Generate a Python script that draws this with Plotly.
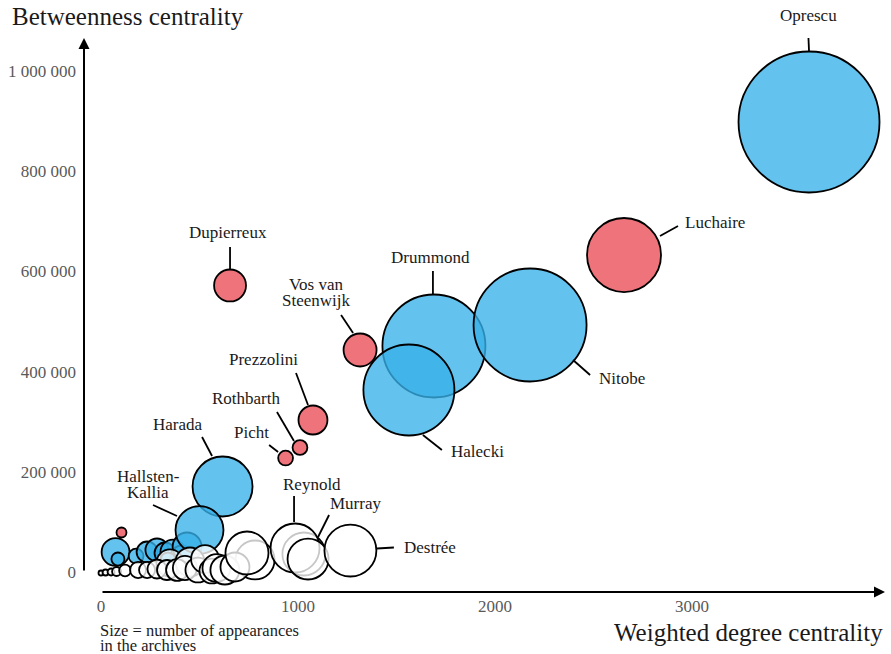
import plotly.graph_objects as go

# ---------------- data ----------------
names = [
    "B1", "B2", "B3", "B4", "B5", "B6", "B7", "B8", "B9", "B10", "R1",
    "Drummond", "Halecki", "Nitobe", "Opprescu", "Luchaire",
    "Dupierreux", "Vos van Steenwijk", "Prezzolini", "Rothbarth", "Picht",
    "Harada", "Hallsten-Kallia",
    "W22", "W23", "W20", "W21",
    "W1", "W2", "W3", "W4", "W5", "W6", "W7", "W8", "W9", "W10", "W11", "W12",
    "W13", "W14", "W15", "W16", "W17", "W19",
    "Reynold", "Murray", "Destrée",
]
weighted_degree = [
    74, 86, 178, 234, 284, 325, 365, 411, 340, 437, 104,
    1690, 1563, 2178, 3594, 2655,
    655, 1315, 1076, 1010, 937,
    617, 500,
    350, 452, 782, 1030,
    0, 23, 51, 79, 122, 188, 234, 284, 335, 386, 426, 492,
    528, 563, 586, 629, 680, 741,
    985, 1051, 1266,
]
betweenness = [
    39900, 25900, 31900, 39900, 43900, 37900, 39900, 29900, 24000, 49900, 78800,
    451100, 363300, 493000, 898200, 632700,
    571900, 443100, 303400, 248500, 227500,
    170700, 83800,
    18000, 20000, 24000, 35900,
    -2000, -1000, 0, 1000, 3000, 4000, 4000, 6000, 4000, 4000, 8000, 4000,
    25900, 2000, 8000, 4000, 10000, 37900,
    47900, 25900, 42900,
]
appearances = [
    78, 17, 22, 44, 53, 44, 62, 53, 22, 84, 10,
    1061, 828, 1277, 1988, 548,
    102, 109, 84, 22, 22,
    360, 230,
    73, 84, 152, 185,
    2.5, 3.6, 4.9, 8.1, 14, 26, 26, 36, 40, 48, 58, 62,
    78, 62, 78, 84, 84, 185,
    240, 168, 270,
]
group = [
    "blue"] * 10 + ["red"] + [
    "blue", "blue", "blue", "blue", "red",
    "red", "red", "red", "red", "red",
    "blue", "blue",
] + ["none"] * 4 + ["none"] * 18 + ["none"] * 3

y_tick_vals = [0, 200000, 400000, 600000, 800000, 1000000]
y_tick_text = ["0", "200 000", "400 000", "600 000", "800 000", "1 000 000"]
x_tick_vals = [0, 1000, 2000, 3000]
x_tick_text = ["0", "1000", "2000", "3000"]

# ---------------- styles / layout ----------------
FILL = {
    "blue": "rgba(55,177,233,0.78)",
    "red": "rgba(234,76,85,0.78)",
    "none": "rgba(255,255,255,0.78)",
}
FONT = "Liberation Serif"

# label text offsets (px, screen coords: +x right, +y down) and leader line offsets
labels = {
    "Opprescu": dict(text=["Oprescu"], t=(-1, -107), xa="center", line=((-1, -94), (0, -71))),
    "Luchaire": dict(text=["Luchaire"], t=(60, -33), xa="left", line=((54, -29), (36, -19))),
    "Drummond": dict(text=["Drummond"], t=(-3, -89), xa="center", line=((-1, -75), (-1, -52))),
    "Nitobe": dict(text=["Nitobe"], t=(68, 53), xa="left", line=((43, 35), (60, 50))),
    "Halecki": dict(text=["Halecki"], t=(41, 62), xa="left", line=((14, 45), (33, 60))),
    "Vos van Steenwijk": dict(text=["Vos van", "Steenwijk"], t=(-44, -66), xa="center", line=((-19, -35), (-7, -17))),
    "Dupierreux": dict(text=["Dupierreux"], t=(-2, -52.5), xa="center", line=((0, -38.5), (0, -16.5))),
    "Prezzolini": dict(text=["Prezzolini"], t=(-49, -61), xa="center", line=((-17, -47), (-5, -15))),
    "Rothbarth": dict(text=["Rothbarth"], t=(-53.5, -49.5), xa="center", line=((-23, -35.5), (-6, -6.5))),
    "Picht": dict(text=["Picht"], t=(-34.5, -26), xa="center", line=((-16.5, -13), (-7.5, -6))),
    "Harada": dict(text=["Harada"], t=(-45, -61.5), xa="center", line=((-20.5, -49.5), (-10.5, -30.5))),
    "Hallsten-Kallia": dict(text=["Hallsten-", "Kallia"], t=(-51.5, -54), xa="center", line=((-46.5, -25), (-22.5, -14))),
    "Reynold": dict(text=["Reynold"], t=(17, -64), xa="center", line=((-1, -52), (-1, -26))),
    "Murray": dict(text=["Murray"], t=(47.5, -56), xa="center", line=((21, -44), (10, -22))),
    "Destrée": dict(text=["Destrée"], t=(53, -3), xa="left", line=((26.5, -2), (43.5, -3))),
}

W, H = 891, 654
L, R, T, B = 84, 6, 38, 62
PW, PH = W - L - R, H - T - B


def paper(xpx, ypx):
    return (xpx - L) / PW, (H - B - ypx) / PH


fig = go.Figure()
fig.add_trace(go.Scatter(
    x=weighted_degree, y=betweenness, mode="markers",
    text=names, hoverinfo="text",
    marker=dict(
        size=appearances, sizemode="area", sizeref=0.2, sizemin=0, opacity=1,
        color=[FILL[g] for g in group],
        line=dict(color="black", width=1.8),
    ),
    showlegend=False,
))

annotations = []
shapes = []
for nm, spec in labels.items():
    i = names.index(nm)
    px, py = weighted_degree[i], betweenness[i]
    tx, ty = spec["t"]
    for k, line in enumerate(spec["text"]):
        annotations.append(dict(
            x=px, y=py, xref="x", yref="y", text=line, showarrow=False,
            xshift=tx, yshift=-(ty + 16.5 * k), xanchor=spec["xa"], yanchor="middle",
            borderpad=0,
            font=dict(family=FONT, size=17, color="#1a1a1a"),
        ))
    (a0, b0), (a1, b1) = spec["line"]
    shapes.append(dict(
        type="line", xref="x", yref="y", xsizemode="pixel", ysizemode="pixel",
        xanchor=px, yanchor=py, x0=a0, x1=a1, y0=-b0, y1=-b1,
        line=dict(color="black", width=1.8),
    ))

# axis arrows
annotations.append(dict(xref="paper", yref="paper", x=0, y=1, axref="pixel", ayref="pixel",
                        ax=0, ay=534, text="", showarrow=True, arrowhead=2, arrowsize=1.1,
                        arrowwidth=2, arrowcolor="black"))
annotations.append(dict(xref="paper", yref="paper", x=1, y=0, axref="pixel", ayref="pixel",
                        ax=-784, ay=0, text="", showarrow=True, arrowhead=2, arrowsize=1.1,
                        arrowwidth=2, arrowcolor="black"))

# titles
px_, py_ = paper(10, 16)
annotations.append(dict(xref="paper", yref="paper", x=px_, y=py_, xanchor="left", yanchor="middle",
                        text="Betweenness centrality", showarrow=False,
                        font=dict(family=FONT, size=25, color="#1a1a1a")))
px_, py_ = paper(885, 632)
annotations.append(dict(xref="paper", yref="paper", x=px_, y=py_, xanchor="right", yanchor="middle",
                        text="Weighted degree centrality", showarrow=False,
                        font=dict(family=FONT, size=25, color="#1a1a1a")))
for k, t in enumerate(["Size = number of appearances", "in the archives"]):
    px_, py_ = paper(99, 630 + 15.5 * k)
    annotations.append(dict(xref="paper", yref="paper", x=px_, y=py_, xanchor="left", yanchor="middle",
                            text=t, showarrow=False, borderpad=0,
                            font=dict(family=FONT, size=16.5, color="#1a1a1a")))

fig.update_layout(
    width=W, height=H,
    margin=dict(l=L, r=R, t=T, b=B, pad=0),
    paper_bgcolor="white", plot_bgcolor="white",
    annotations=annotations, shapes=shapes,
    xaxis=dict(range=[-86.3, 3979.7], showgrid=False, zeroline=False, showline=False,
               ticks="", tickvals=x_tick_vals, ticktext=x_tick_text, ticklabelstandoff=2,
               tickfont=dict(family=FONT, size=17, color="#595959")),
    yaxis=dict(range=[-39920, 1065868], showgrid=False, zeroline=False, showline=False,
               ticks="", tickvals=y_tick_vals, ticktext=y_tick_text, ticklabelstandoff=7,
               tickfont=dict(family=FONT, size=17, color="#595959")),
)

fig.write_html("out.html", config={"displayModeBar": False},
               post_script="document.body.style.margin='0';document.body.style.overflow='hidden';")
